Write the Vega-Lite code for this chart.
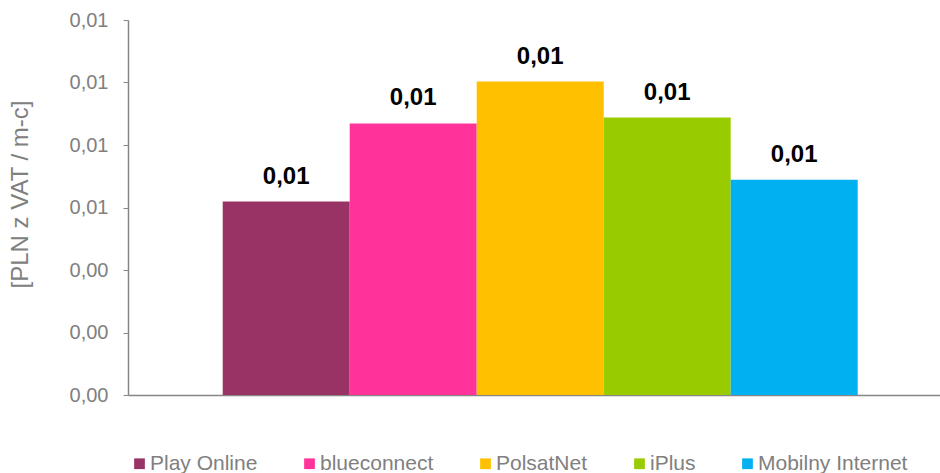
{
  "$schema": "https://vega.github.io/schema/vega-lite/v6.json",
  "width": 812,
  "height": 375,
  "autosize": {"type": "none"},
  "padding": {"left": 128, "top": 20, "right": 0, "bottom": 78},
  "background": "white",
  "config": {
    "view": {"stroke": null},
    "font": "Liberation Sans",
    "axis": {"labelFont": "Liberation Sans", "titleFont": "Liberation Sans"},
    "legend": {"labelFont": "Liberation Sans"},
    "text": {"font": "Liberation Sans"},
    "locale": {"number": {"decimal": ",", "thousands": " ", "grouping": [3], "currency": ["", " zł"]}}
  },
  "data": {
    "values": [
      {"operator": "Play Online", "value": 0.00619},
      {"operator": "blueconnect", "value": 0.00869},
      {"operator": "PolsatNet", "value": 0.01003},
      {"operator": "iPlus", "value": 0.00888},
      {"operator": "Mobilny Internet", "value": 0.00689}
    ]
  },
  "encoding": {
    "x": {
      "field": "operator",
      "type": "nominal",
      "sort": null,
      "scale": {"paddingInner": 0, "paddingOuter": 0.697, "align": 0.535},
      "axis": {"labels": false, "ticks": false, "title": null, "domainColor": "#868686", "domainWidth": 1.5}
    },
    "y": {
      "field": "value",
      "type": "quantitative",
      "scale": {"domain": [0, 0.012], "nice": false},
      "axis": {
        "values": [0, 0.002, 0.004, 0.006, 0.008, 0.01, 0.012],
        "format": ".2f",
        "grid": false,
        "domainColor": "#868686",
        "domainWidth": 1.5,
        "tickColor": "#868686",
        "tickSize": 5,
        "labelPadding": 15,
        "labelFont": "Liberation Sans",
        "labelFontSize": 20,
        "labelColor": "#808080",
        "title": "[PLN z VAT / m-c]",
        "titleFont": "Liberation Sans",
        "titleFontSize": 24,
        "titleFontWeight": "normal",
        "titleColor": "#808080",
        "titlePadding": 37,
        "titleY": 174
      }
    }
  },
  "layer": [
    {
      "mark": {"type": "bar", "strokeWidth": 0},
      "encoding": {
        "color": {
          "field": "operator",
          "type": "nominal",
          "sort": null,
          "scale": {
            "domain": ["Play Online", "blueconnect", "PolsatNet", "iPlus", "Mobilny Internet"],
            "range": ["#993366", "#FF3399", "#FFC000", "#99CC00", "#00B0F0"]
          },
          "legend": {
            "orient": "none",
            "legendX": 1,
            "legendY": 433,
            "direction": "horizontal",
            "title": null,
            "symbolType": "square",
            "symbolSize": 115,
            "symbolStrokeWidth": 0,
            "labelFont": "Liberation Sans",
            "labelFontSize": 21,
            "labelColor": "#808080",
            "labelOffset": 0,
            "columnPadding": 41,
            "labelLimit": 300
          }
        }
      }
    },
    {
      "mark": {"type": "text", "font": "Liberation Sans", "baseline": "bottom", "dy": -13, "fontSize": 24, "fontWeight": "bold", "color": "#000000"},
      "encoding": {
        "text": {"field": "value", "type": "quantitative", "format": ".2f"}
      }
    }
  ]
}
